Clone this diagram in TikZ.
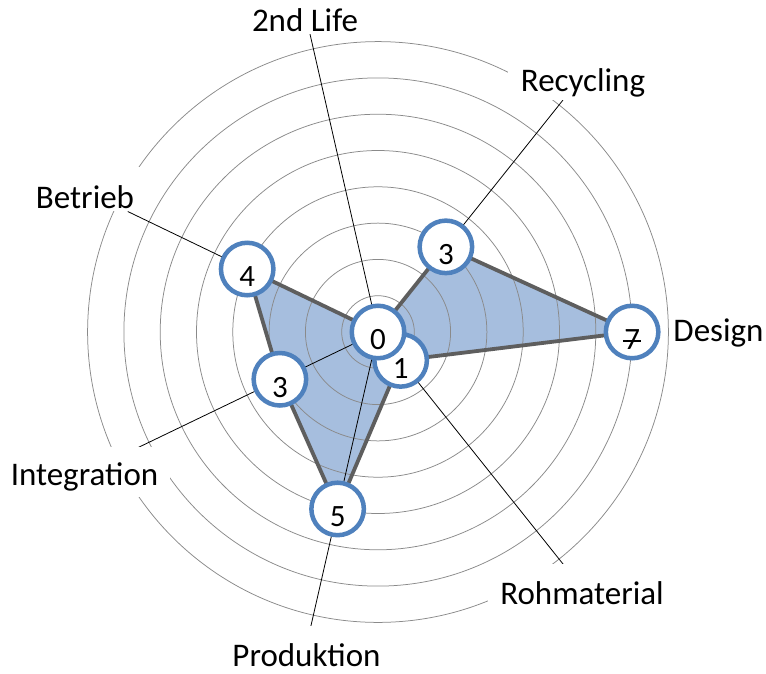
\documentclass[tikz,border=0pt]{standalone}
\usepackage{fontspec}
\setmainfont{Carlito}
\definecolor{ringc}{HTML}{8A8A8A}
\definecolor{fillc}{HTML}{A6BEDE}
\definecolor{edgec}{HTML}{5E5E5E}
\definecolor{ptc}{HTML}{4F81BD}
\begin{document}
\begin{tikzpicture}[x=1pt,y=-1pt,
  ring/.style={draw=ringc, line width=0.75pt},
  axisline/.style={draw=black, line width=0.8pt},
  area/.style={fill=fillc},
  edgeline/.style={draw=edgec, line width=3.8pt, line join=round},
  pt/.style={circle, draw=ptc, line width=4.5pt, fill=white, minimum size=52.5pt, inner sep=0pt},
  num/.style={font=\fontsize{31}{36}\selectfont, inner sep=0pt, yshift=-8pt},
  lab/.style={fill=white, font=\fontsize{33}{39}\selectfont, inner xsep=12pt, inner ysep=0pt, text height=40pt, text depth=10pt, anchor=base}]
\useasboundingbox (0,0) rectangle (766,673);
\fill[white] (0,0) rectangle (766,673);
\begin{scope}[shift={(378,332)}, y=1pt]
  \coordinate (O) at (0,0);
  % data vertices
  \coordinate (v0) at (0,0);
  \coordinate (v1) at (51.429:108.9);
  \coordinate (v2) at (0:254.1);
  \coordinate (v3) at (-51.429:36.3);
  \coordinate (v4) at (-102.857:181.5);
  \coordinate (v5) at (-154.286:108.9);
  \coordinate (v6) at (154.286:145.2);
  % leader ends
  \coordinate (e0) at (102.857:305.7);
  \coordinate (e1) at (51.429:296.7);
  \coordinate (e3) at (-51.429:298);
  \coordinate (e4) at (-102.857:302.5);
  \coordinate (e5) at (-154.286:268.8);
  \coordinate (e6) at (154.286:277.7);
  % filled area
  \fill[area] (v0) -- (v1) -- (v2) -- (v3) -- (v4) -- (v5) -- (v6) -- cycle;
  % rings
  \foreach \k in {1,...,8} \draw[ring] (O) circle[radius=\k*36.3];
  % axis lines
  \foreach \e in {e0,e1,e3,e4,e5,e6} \draw[axisline] (O) -- (\e);
  % outline
  \draw[edgeline] (v0) -- (v1) -- (v2) -- (v3) -- (v4) -- (v5) -- (v6) -- cycle;
  % points
  \node[pt] (p1) at (v3) {};
  \node[num] (n1) at (p1) {1};
  \node[pt] (p0) at (v0) {};
  \node[num] (n0) at (p0) {0};
  \node[pt] (p2) at (v1) {};
  \node[num] (n2) at (p2) {3};
  \node[pt] (p3) at (v2) {};
  \node[num] (n3) at (p3) {\ooalign{7\cr\hidewidth\rule[0.27em]{0.6em}{1.6pt}\hidewidth\cr}};
  \node[pt] (p4) at (v4) {};
  \node[num] (n4) at (p4) {5};
  \node[pt] (p5) at (v5) {};
  \node[num] (n5) at (p5) {3};
  \node[pt] (p6) at (v6) {};
  \node[num] (n6) at (p6) {4};
\end{scope}
% category labels
\node[lab, text depth=3pt] (l0) at (305,31) {2nd Life};
\node[lab, inner xsep=13pt, text depth=9pt] (l1) at (583,91) {Recycling};
\node[lab, inner xsep=4pt] (l2) at (718.5,341) {Design};
\node[lab] (l3) at (582,604) {Rohmaterial};
\node[lab, text depth=5pt] (l4) at (306.5,666) {Produktion};
\node[lab, text height=38pt, text depth=12pt] (l5) at (84.5,485) {Integration};
\node[lab, text height=41pt, text depth=3pt] (l6) at (85,208) {Betrieb};
\end{tikzpicture}
\end{document}
